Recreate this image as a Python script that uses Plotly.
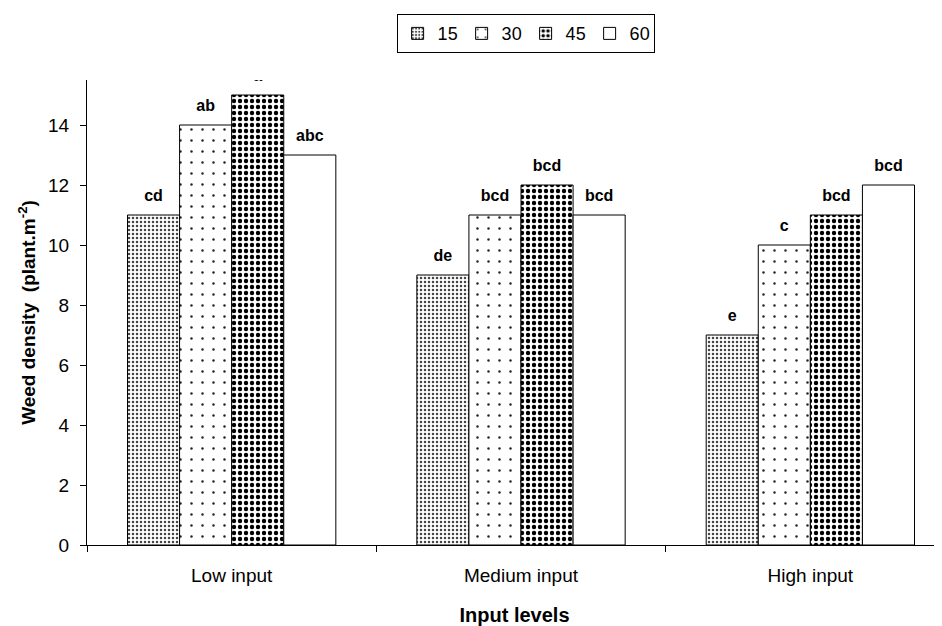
import plotly.graph_objects as go

categories = ["Low input", "Medium input", "High input"]
series_names = ["15", "30", "45", "60"]
values_15 = [11, 9, 7]
values_30 = [14, 11, 10]
values_45 = [15, 12, 11]
values_60 = [13, 11, 12]
letters_15 = ["cd", "de", "e"]
letters_30 = ["ab", "bcd", "c"]
letters_45 = ["a", "bcd", "bcd"]
letters_60 = ["abc", "bcd", "bcd"]

FONT = "Liberation Sans, Arial, sans-serif"

patterns = [
    dict(shape=".", size=4, solidity=0.3, fgcolor="#444444", fgopacity=1, bgcolor="white", fillmode="overlay"),
    dict(shape=".", size=11, solidity=0.04, fgcolor="#222222", fgopacity=1, bgcolor="white", fillmode="overlay"),
    dict(shape=".", size=6, solidity=0.42, fgcolor="black", fgopacity=1, bgcolor="white", fillmode="overlay"),
    dict(shape="", bgcolor="white"),
]

fig = go.Figure()
all_vals = [values_15, values_30, values_45, values_60]
all_labs = [letters_15, letters_30, letters_45, letters_60]
for i, (name, vals, pat) in enumerate(zip(series_names, all_vals, patterns)):
    fig.add_trace(go.Bar(
        name=name, x=categories, y=vals, offsetgroup=str(i),
        marker=dict(color="white", line=dict(color="black", width=1), pattern=pat),
    ))
for i, (vals, labs) in enumerate(zip(all_vals, all_labs)):
    fig.add_trace(go.Scatter(
        x=categories, y=vals, text=labs, mode="markers+text", offsetgroup=str(i),
        textposition="top center", cliponaxis=True, showlegend=False,
        marker=dict(size=14, opacity=0),
        textfont=dict(family=FONT, size=16, color="black", weight="bold"),
        hoverinfo="skip",
    ))

# the page body adds an 8px offset at top/left, so the figure is sized to compensate
fig.update_layout(
    width=934, height=618,
    paper_bgcolor="white", plot_bgcolor="white",
    barmode="group", bargap=0.28, bargroupgap=0,
    scattermode="group", scattergap=0.28,
    margin=dict(l=79, r=0, t=72, b=81, autoexpand=False),
    font=dict(family=FONT, size=19, color="black"),
    legend=dict(orientation="h", x=0.513, xanchor="center", y=0.99, yanchor="top",
                yref="container", bordercolor="black", borderwidth=1,
                font=dict(size=18), itemwidth=30, tracegroupgap=0,
                entrywidthmode="pixels", entrywidth=19),
    xaxis=dict(range=[-0.5, 2.455], showline=True, linecolor="black", linewidth=1,
               ticks="outside", tickson="boundaries", ticklen=6, tickcolor="black",
               ticklabelstandoff=13, showgrid=False, zeroline=False, automargin=False,
               title=dict(text="<b>Input levels</b>", font=dict(size=20), standoff=33)),
    yaxis=dict(range=[0, 15.5], showline=True, linecolor="black", linewidth=1,
               ticks="outside", ticklen=6, tickcolor="black", dtick=2,
               ticklabelstandoff=7, automargin=False,
               showgrid=False, zeroline=False,
               title=dict(text="<b>Weed density  (plant.m<sup>-2</sup>)</b>", font=dict(size=19), standoff=7)),
)

fig.write_html("out.html")
